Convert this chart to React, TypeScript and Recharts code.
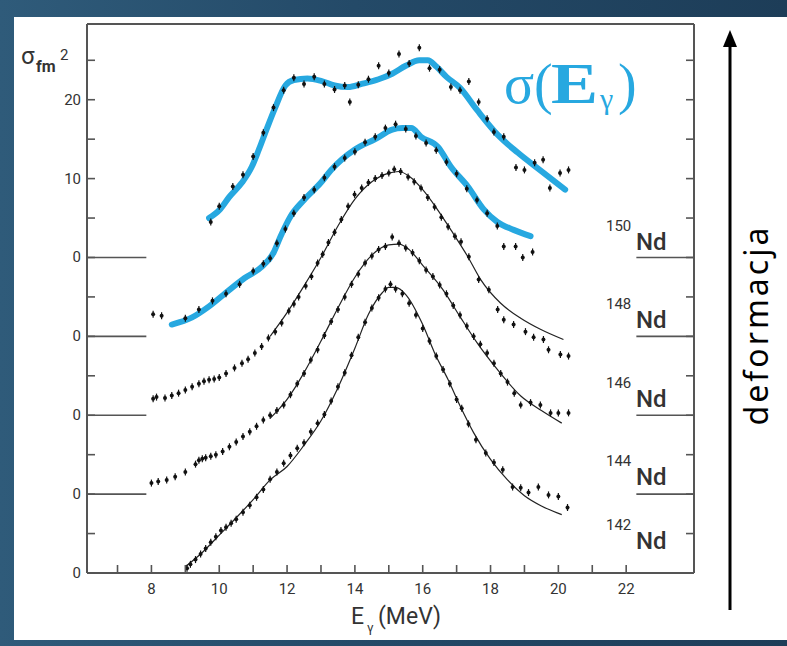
import React from 'react';
import { ComposedChart, XAxis, YAxis, Line, Scatter, ReferenceLine } from 'recharts';

// Photo-absorption cross sections of the Nd isotopes, σ in fm², E in MeV.
// Each isotope is stacked 10 fm² above the previous one.
const isotopes = ['142', '144', '146', '148', '150'];
const offsets = [0, 10, 20, 30, 40];

const energyTicks = [7, 8, 9, 10, 11, 12, 13, 14, 15, 16, 17, 18, 19, 20, 21, 22];
const energyLabels = [8, 10, 12, 14, 16, 18, 20, 22];
const sigmaTicks = [0, 5, 10, 15, 20, 25, 30, 35, 40, 45, 50, 55, 60, 65];
const sigmaLabels: Record<number, string> = { 0: '0', 10: '0', 20: '0', 30: '0', 40: '0', 50: '10', 60: '20' };
const baselines = [10, 20, 30, 40];

// measured points [E, σ]
const nd142Points: [number, number][] = [
  [9.05, 0.6], [9.15, 1.1], [9.3, 1.7], [9.45, 2.4], [9.6, 3.1], [9.75, 3.9], [9.9, 4.6], [10.05, 5.4],
  [10.2, 5.8], [10.35, 6.3], [10.5, 6.8], [10.7, 7.7], [10.9, 8.6], [11.1, 9.6], [11.3, 10.6], [11.5, 11.9],
  [11.7, 12.8], [11.9, 13.9], [12.1, 14.9], [12.3, 15.8], [12.5, 16.5], [12.7, 17.9], [12.9, 19.0], [13.1, 20.1],
  [13.3, 21.8], [13.5, 23.6], [13.7, 25.4], [13.9, 27.6], [14.1, 29.9], [14.3, 31.8], [14.5, 33.6], [14.7, 34.9],
  [14.9, 36.0], [15.05, 36.6], [15.2, 36.0], [15.4, 35.4], [15.6, 34.2], [15.8, 32.7], [16.0, 31.0], [16.2, 29.4],
  [16.4, 27.5], [16.6, 25.8], [16.8, 24.0], [17.0, 22.0], [17.15, 20.9], [17.35, 18.9], [17.57, 16.9], [17.86, 15.2],
  [18.1, 14.0], [18.36, 13.1], [18.65, 10.9], [18.89, 10.8], [19.12, 10.2], [19.41, 10.9], [19.71, 9.9], [20.0, 9.7],
  [20.27, 8.3],
];
const nd144Points: [number, number][] = [
  [8.0, 1.4], [8.2, 1.6], [8.45, 1.8], [8.7, 2.2], [9.0, 2.8], [9.3, 3.8], [9.4, 4.3], [9.5, 4.5], [9.6, 4.6],
  [9.75, 4.8], [9.9, 5.0], [10.1, 5.4], [10.3, 6.0], [10.5, 6.6], [10.7, 7.3], [10.9, 7.9], [11.1, 8.6], [11.3, 9.4],
  [11.5, 10.0], [11.7, 10.6], [11.9, 11.3], [12.1, 12.6], [12.3, 14.0], [12.5, 15.3], [12.7, 17.0], [12.9, 18.3],
  [13.1, 20.1], [13.3, 21.9], [13.5, 23.4], [13.7, 25.0], [13.9, 26.6], [14.1, 27.9], [14.3, 29.3], [14.5, 30.2],
  [14.7, 31.0], [14.9, 31.4], [15.1, 32.6], [15.3, 31.8], [15.5, 31.2], [15.7, 30.6], [15.9, 29.6], [16.1, 28.4],
  [16.3, 27.6], [16.5, 26.5], [16.7, 25.4], [16.9, 23.9], [17.1, 22.7], [17.3, 21.3], [17.5, 20.0], [17.7, 19.0],
  [17.9, 17.9], [18.1, 16.6], [18.3, 15.3], [18.5, 14.2], [18.7, 12.8], [18.89, 11.3], [19.18, 11.6], [19.47, 11.3],
  [19.77, 10.3], [20.0, 10.3], [20.3, 10.3],
];
const nd146Points: [number, number][] = [
  [8.05, 2.1], [8.15, 2.3], [8.4, 2.2], [8.6, 2.5], [8.8, 2.8], [9.0, 3.2], [9.2, 3.6], [9.4, 4.0], [9.55, 4.3],
  [9.7, 4.5], [9.85, 4.6], [10.0, 4.8], [10.2, 5.3], [10.45, 6.0], [10.67, 6.6], [10.85, 7.1], [11.05, 7.9],
  [11.25, 8.7], [11.45, 9.8], [11.65, 10.6], [11.84, 11.7], [12.05, 13.2], [12.2, 14.1], [12.34, 15.0], [12.55, 16.4],
  [12.72, 17.6], [12.9, 19.3], [13.05, 20.4], [13.22, 21.9], [13.4, 23.2], [13.6, 24.8], [13.8, 26.5], [13.99, 28.0],
  [14.2, 28.8], [14.4, 29.5], [14.6, 30.0], [14.8, 30.4], [15.0, 30.7], [15.16, 31.2], [15.35, 30.9], [15.57, 30.2],
  [15.75, 29.6], [15.95, 28.8], [16.15, 27.6], [16.35, 26.4], [16.55, 25.1], [16.75, 23.9], [16.95, 22.7],
  [17.13, 22.0], [17.36, 20.1], [17.65, 17.2], [17.95, 15.9], [18.21, 13.4], [18.39, 12.1], [18.68, 11.5],
  [19.03, 10.6], [19.27, 9.9], [19.56, 9.6], [19.71, 8.3], [20.06, 7.7], [20.3, 7.5],
];
const nd148Points: [number, number][] = [
  [8.05, 2.8], [8.3, 2.6], [9.0, 2.3], [9.4, 3.4], [9.8, 4.5], [10.2, 5.4], [10.6, 6.6], [11.0, 8.3], [11.3, 9.2],
  [11.5, 9.9], [11.7, 11.8], [11.95, 13.6], [12.2, 15.6], [12.5, 17.6], [12.8, 18.6], [13.1, 20.1], [13.4, 21.5],
  [13.7, 22.6], [14.0, 23.4], [14.3, 24.6], [14.6, 25.3], [14.9, 26.4], [15.2, 26.9], [15.5, 26.3], [15.8, 25.4],
  [16.1, 24.5], [16.4, 23.6], [16.7, 22.1], [17.0, 20.6], [17.3, 18.7], [17.6, 17.3], [17.9, 15.6], [18.2, 14.0],
  [18.39, 11.4], [18.74, 11.4], [18.95, 10.0], [19.24, 10.7],
];
const nd150Points: [number, number][] = [
  [9.75, 4.5], [10.0, 6.5], [10.4, 9.0], [10.7, 10.5], [11.0, 12.8], [11.3, 15.8], [11.6, 19.0], [11.9, 21.2],
  [12.2, 22.8], [12.5, 22.0], [12.8, 22.9], [13.1, 22.0], [13.4, 21.3], [13.7, 21.8], [13.85, 19.7], [14.1, 21.9],
  [14.4, 22.6], [14.7, 24.3], [15.0, 23.4], [15.3, 25.8], [15.6, 24.6], [15.9, 26.6], [16.2, 24.0], [16.5, 23.8],
  [16.83, 21.6], [17.1, 21.2], [17.36, 22.3], [17.65, 19.7], [17.9, 17.6], [18.1, 15.9], [18.39, 15.3], [18.75, 11.4],
  [19.0, 11.1], [19.3, 12.0], [19.55, 12.4], [19.75, 8.8], [20.05, 10.7], [20.3, 11.1],
];

// Lorentzian fits (thin lines)
const nd142Fit: [number, number][] = [
  [9.0, 0.8], [9.5, 2.6], [10.0, 4.8], [10.5, 7.0], [11.0, 9.3], [11.5, 11.8], [12.0, 13.5], [12.5, 16.2],
  [13.0, 19.3], [13.5, 23.5], [14.0, 28.5], [14.4, 32.8], [14.8, 35.5], [15.0, 36.2], [15.2, 36.2], [15.5, 35.3],
  [16.0, 31.5], [16.35, 27.9], [16.75, 24.5], [17.1, 21.2], [17.5, 17.8], [18.0, 14.4], [18.5, 11.8], [19.0, 9.8],
  [19.5, 8.5], [20.1, 7.4],
];
const nd144Fit: [number, number][] = [
  [11.5, 9.6], [12.0, 12.0], [12.5, 15.4], [13.0, 19.4], [13.5, 23.6], [14.0, 27.5], [14.5, 30.3], [15.0, 31.6],
  [15.3, 31.7], [15.6, 31.0], [16.0, 29.0], [16.6, 25.9], [17.1, 22.5], [17.6, 19.2], [18.2, 15.8], [18.9, 12.4],
  [19.5, 10.6], [20.1, 9.0],
];
const nd146Fit: [number, number][] = [
  [11.5, 10.0], [12.0, 13.0], [12.5, 16.4], [13.0, 20.0], [13.5, 24.0], [14.0, 27.4], [14.5, 29.6], [15.0, 30.7],
  [15.3, 30.9], [15.6, 30.3], [16.0, 28.6], [16.4, 26.3], [16.83, 23.5], [17.33, 20.1], [17.71, 17.2], [18.3, 14.2],
  [18.89, 12.3], [19.47, 10.9], [20.15, 9.6],
];

// hand-drawn σ(Eγ) curves for the deformed isotopes
const nd148Curve: [number, number][] = [
  [8.6, 1.5], [9.2, 2.4], [9.7, 3.8], [10.3, 5.9], [10.75, 7.4], [11.25, 8.8], [11.6, 10.6], [11.8, 12.6],
  [12.1, 15.2], [12.5, 17.3], [13.0, 19.5], [13.3, 21.1], [14.0, 23.7], [14.6, 25.0], [15.1, 26.2], [15.4, 26.4],
  [15.66, 26.4], [15.95, 25.3], [16.45, 24.0], [16.83, 21.5], [17.33, 19.0], [17.8, 16.1], [18.2, 14.5],
  [18.68, 13.5], [19.18, 12.7],
];
const nd150Curve: [number, number][] = [
  [9.7, 5.0], [10.0, 6.0], [10.3, 7.7], [10.67, 9.5], [10.96, 11.5], [11.17, 13.7], [11.4, 16.3], [11.65, 19.0],
  [11.95, 21.8], [12.2, 22.5], [12.6, 22.7], [13.0, 22.4], [13.4, 21.8], [13.8, 21.6], [14.2, 22.0], [14.7, 22.6],
  [15.1, 23.3], [15.5, 24.3], [15.9, 25.0], [16.15, 25.0], [16.4, 24.2], [16.7, 22.9], [17.1, 21.5], [17.6, 18.7],
  [18.2, 15.6], [18.8, 13.3], [19.45, 11.1], [20.2, 8.6],
];

const stack = (rows: [number, number][], offset: number) => rows.map(([e, s]) => ({ e, y: s + offset }));

const pointSets = [nd142Points, nd144Points, nd146Points, nd148Points, nd150Points].map((r, i) => stack(r, offsets[i]));
const fitSets = [nd142Fit, nd144Fit, nd146Fit].map((r, i) => stack(r, offsets[i]));
const curveSets = [stack(nd148Curve, offsets[3]), stack(nd150Curve, offsets[4])];

const W = 787;
const H = 646;
const FRAME = '#555';
const INK = '#333';
const BLUE = '#27a8e0';
const SANS = 'Roboto, "DejaVu Sans", sans-serif';
const SERIF = '"Liberation Serif", serif';

const BottomTick = (p: any) => {
  const v = p.payload.value;
  return (
    <g>
      <line x1={p.x} x2={p.x} y1={p.y} y2={p.y - 8} stroke={FRAME} strokeWidth={1.6} />
      {energyLabels.includes(v) && (
        <text x={p.x} y={p.y + 21} textAnchor="middle" fontSize={15} fill={INK} fontFamily={SANS}>{v}</text>
      )}
    </g>
  );
};
const TopTick = (p: any) => (
  <line x1={p.x} x2={p.x} y1={p.y} y2={p.y + 8} stroke={FRAME} strokeWidth={1.6} />
);
const LeftTick = (p: any) => {
  const v = p.payload.value;
  return (
    <g>
      <line x1={p.x} x2={p.x + 8} y1={p.y} y2={p.y} stroke={FRAME} strokeWidth={1.6} />
      {sigmaLabels[v] !== undefined && (
        <text x={p.x - 6} y={p.y + 5} textAnchor="end" fontSize={15} fill={INK} fontFamily={SANS}>{sigmaLabels[v]}</text>
      )}
    </g>
  );
};
const RightTick = (p: any) => (
  <line x1={p.x} x2={p.x - 8} y1={p.y} y2={p.y} stroke={FRAME} strokeWidth={1.6} />
);

const DataMark = (p: any) => (
  <g>
    <line x1={p.cx} x2={p.cx} y1={p.cy - 3.5} y2={p.cy + 3.5} stroke="#111" strokeWidth={1.2} />
    <circle cx={p.cx} cy={p.cy} r={2} fill="#111" />
  </g>
);

// label positions for the isotope names (page pixels)
const isoLabelPos = [
  { x: 606, y: 549 },
  { x: 606, y: 485 },
  { x: 606, y: 407 },
  { x: 606, y: 328 },
  { x: 606, y: 250 },
];

export default function App() {
  return (
    <div
      style={{
        position: 'absolute', left: 0, top: 0, width: W, height: H,
        background: 'linear-gradient(90deg, #2f5b7a 0%, #244a68 45%, #1d3d58 100%)',
      }}
    >
      <div style={{ position: 'absolute', left: 14, top: 17, width: W - 14, height: 623, background: '#fff' }} />
      <div style={{ position: 'absolute', left: 0, top: 0 }}>
        <ComposedChart width={W} height={H} margin={{ top: 14, right: 83, bottom: 23, left: 27 }}>
          <XAxis
            dataKey="e" type="number" domain={[6.1, 24]} allowDataOverflow ticks={energyTicks}
            tickSize={0} tickMargin={0} tick={<BottomTick />} height={50}
            axisLine={{ stroke: FRAME, strokeWidth: 2 }} interval={0}
          />
          <XAxis
            xAxisId="top" orientation="top" type="number" domain={[6.1, 24]} allowDataOverflow ticks={energyTicks}
            tickSize={0} tickMargin={0} tick={<TopTick />} height={10}
            axisLine={{ stroke: FRAME, strokeWidth: 2 }} interval={0}
          />
          <YAxis
            dataKey="y" type="number" domain={[0, 69.6]} allowDataOverflow ticks={sigmaTicks}
            tickSize={0} tickMargin={0} tick={<LeftTick />} width={60}
            axisLine={{ stroke: FRAME, strokeWidth: 2 }} interval={0}
          />
          <YAxis
            yAxisId="right" orientation="right" type="number" domain={[0, 69.6]} allowDataOverflow
            ticks={sigmaTicks.slice(1)} tickSize={0} tickMargin={0} tick={<RightTick />} width={10}
            axisLine={{ stroke: FRAME, strokeWidth: 2 }} interval={0}
          />
          {baselines.map((b) => (
            <ReferenceLine key={'l' + b} segment={[{ x: 6.1, y: b }, { x: 7.85, y: b }]} stroke={FRAME} strokeWidth={1.6} ifOverflow="visible" />
          ))}
          {baselines.map((b) => (
            <ReferenceLine key={'r' + b} segment={[{ x: 22.3, y: b }, { x: 24, y: b }]} stroke={FRAME} strokeWidth={1.6} ifOverflow="visible" />
          ))}
          {fitSets.map((d, i) => (
            <Line key={'f' + i} data={d} dataKey="y" type="monotone" dot={false} stroke="#222" strokeWidth={1.2} isAnimationActive={false} />
          ))}
          {pointSets.map((d, i) => (
            <Scatter key={'p' + i} data={d} dataKey="y" shape={<DataMark />} isAnimationActive={false} />
          ))}
          {curveSets.map((d, i) => (
            <Line
              key={'c' + i} data={d} dataKey="y" type="monotone" dot={false} stroke={BLUE} strokeWidth={6}
              strokeLinecap="round" strokeLinejoin="round" isAnimationActive={false}
            />
          ))}
        </ComposedChart>
      </div>
      <svg width={W} height={H} style={{ position: 'absolute', left: 0, top: 0, pointerEvents: 'none' }}>
        {/* y-axis unit σ_fm² */}
        <text x={21} y={64} fontSize={24} fill={INK} fontFamily={SANS}>σ</text>
        <text x={36} y={72} fontSize={16} fontWeight="bold" fill={INK} fontFamily={SANS}>fm</text>
        <text x={60} y={60} fontSize={15} fill={INK} fontFamily={SANS}>2</text>
        {/* x-axis title E_γ (MeV) */}
        <text x={351} y={624} fontSize={23} fill={INK} fontFamily={SANS}>E</text>
        <text x={367} y={632} fontSize={13} fill={INK} fontFamily={SANS}>γ</text>
        <text x={378} y={624} fontSize={23} fill={INK} fontFamily={SANS}>(MeV)</text>
        {/* σ(E_γ) */}
        <text x={504} y={103} fontSize={56} fill={BLUE} fontFamily={SERIF}>σ</text>
        <text x={534} y={103} fontSize={56} fill={BLUE} fontFamily={SERIF}>(</text>
        <text x={551} y={103} fontSize={56} fontWeight="bold" fill={BLUE} fontFamily={SERIF} textLength={47} lengthAdjust="spacingAndGlyphs">E</text>
        <text x={600} y={109} fontSize={30} fill={BLUE} fontFamily={SERIF}>γ</text>
        <text x={618} y={103} fontSize={56} fill={BLUE} fontFamily={SERIF}>)</text>
        {isotopes.map((iso, i) => (
          <g key={iso}>
            <text x={isoLabelPos[i].x} y={isoLabelPos[i].y - 19} fontSize={15} fill={INK} fontFamily={SANS}>{iso}</text>
            <text x={isoLabelPos[i].x + 30} y={isoLabelPos[i].y} fontSize={24} fontWeight={500} fill={INK} fontFamily={SANS}>Nd</text>
          </g>
        ))}
        <line x1={730} x2={730} y1={610} y2={44} stroke="#000" strokeWidth={3} />
        <polygon points="730,30 723,47 737,47" fill="#000" />
        <text transform="translate(768,325) rotate(-90)" textAnchor="middle" fontSize={32} fill="#000" fontFamily='"Noto Sans", sans-serif' letterSpacing={3}>
          deformacja
        </text>
      </svg>
    </div>
  );
}
